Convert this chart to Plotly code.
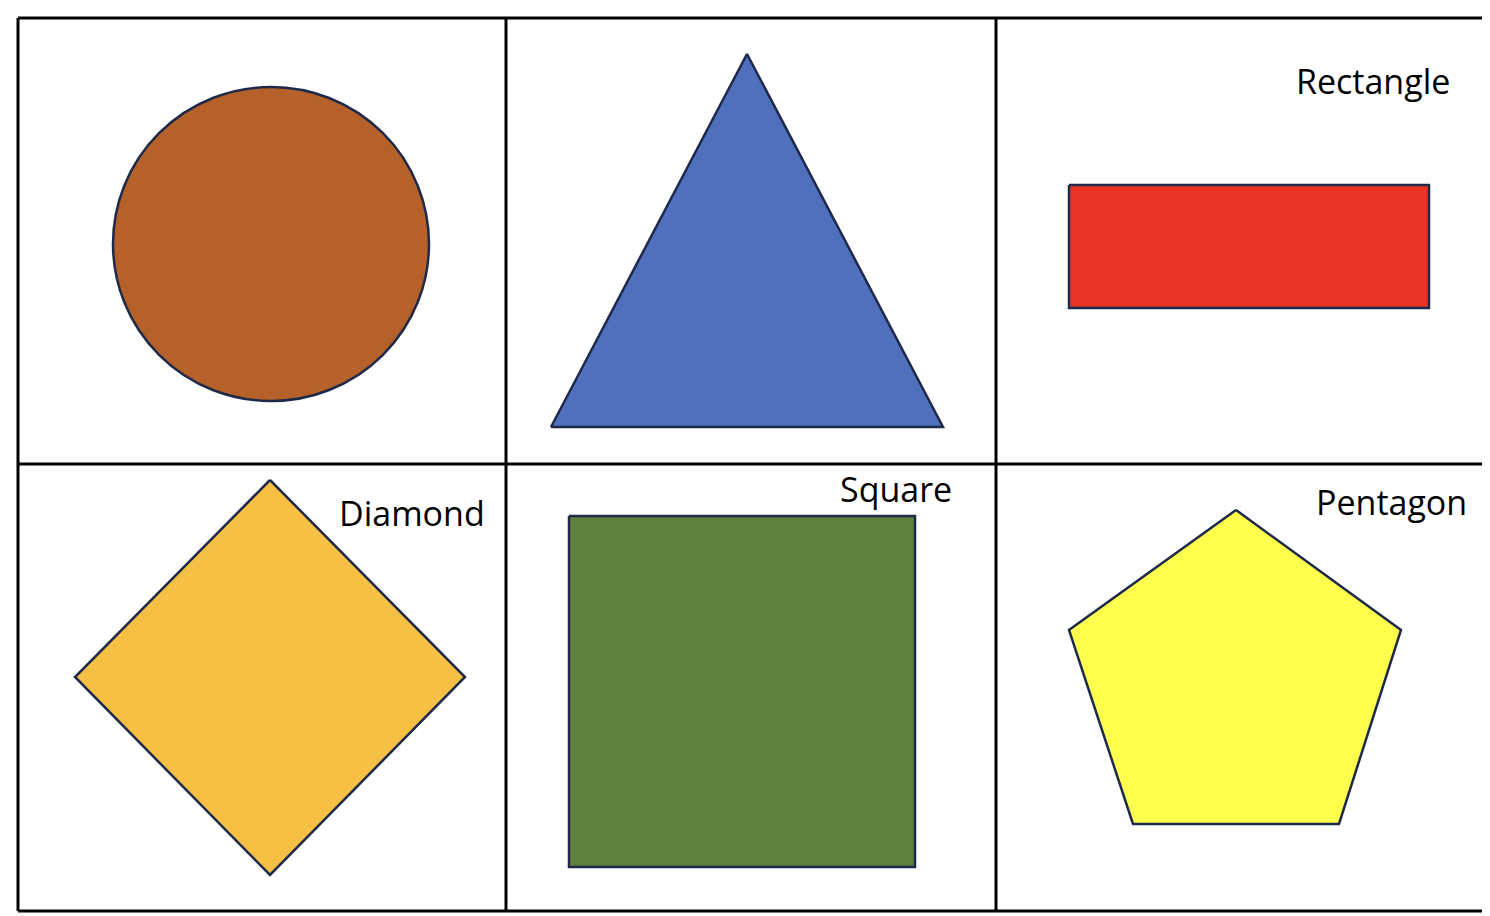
import plotly.graph_objects as go

W, H = 1490, 916

# grid lines (pixel coordinates of the reference)
grid_x = [10, 498, 988, 1478]
grid_y = [10, 456, 903]

# shapes
circle_box = [105, 79, 421, 393]
circle_color = "#B6612A"

poly_names = ["Triangle", "Rectangle", "Diamond", "Square", "Pentagon"]
poly_x = [
    [543, 739, 935],
    [1061, 1421, 1421, 1061],
    [262, 457, 262, 67],
    [561, 907, 907, 561],
    [1228, 1393, 1331, 1125, 1061],
]
poly_y = [
    [419, 46, 419],
    [177, 177, 300, 300],
    [472, 669, 867, 669],
    [508, 508, 859, 859],
    [502, 622, 816, 816, 622],
]
poly_colors = ["#5070BE", "#E83426", "#F5C043", "#5F813E", "#FFFF4D"]

labels = ["Rectangle", "Diamond", "Square", "Pentagon"]
label_x = [1444, 479, 946, 1461]
label_y = [73, 505, 481, 494]

edge = "#1F2A4A"

fig = go.Figure()

for name, xs, ys, c in zip(poly_names, poly_x, poly_y, poly_colors):
    fig.add_trace(go.Scatter(x=xs + xs[:1], y=ys + ys[:1], mode="lines",
                             fill="toself", fillcolor=c, name=name,
                             line=dict(color=edge, width=2.5)))

fig.add_shape(type="circle", x0=circle_box[0], y0=circle_box[1],
              x1=circle_box[2], y1=circle_box[3],
              fillcolor=circle_color, line=dict(color=edge, width=2.5))

for gx in grid_x:
    fig.add_shape(type="line", x0=gx, x1=gx, y0=grid_y[0], y1=grid_y[-1],
                  line=dict(color="black", width=3))
for gy in grid_y:
    fig.add_shape(type="line", x0=grid_x[0], x1=grid_x[-1], y0=gy, y1=gy,
                  line=dict(color="black", width=3))

for t, x, y in zip(labels, label_x, label_y):
    fig.add_annotation(x=x, y=y, text=t, showarrow=False, xanchor="right",
                       yanchor="middle",
                       font=dict(family="Open Sans", size=34, color="black"))

fig.update_xaxes(range=[0, W], visible=False)
fig.update_yaxes(range=[H, 0], visible=False)
fig.update_layout(width=W, height=H, margin=dict(l=0, r=0, t=0, b=0),
                  showlegend=False, plot_bgcolor="white", paper_bgcolor="white")

fig.write_html("out.html")
